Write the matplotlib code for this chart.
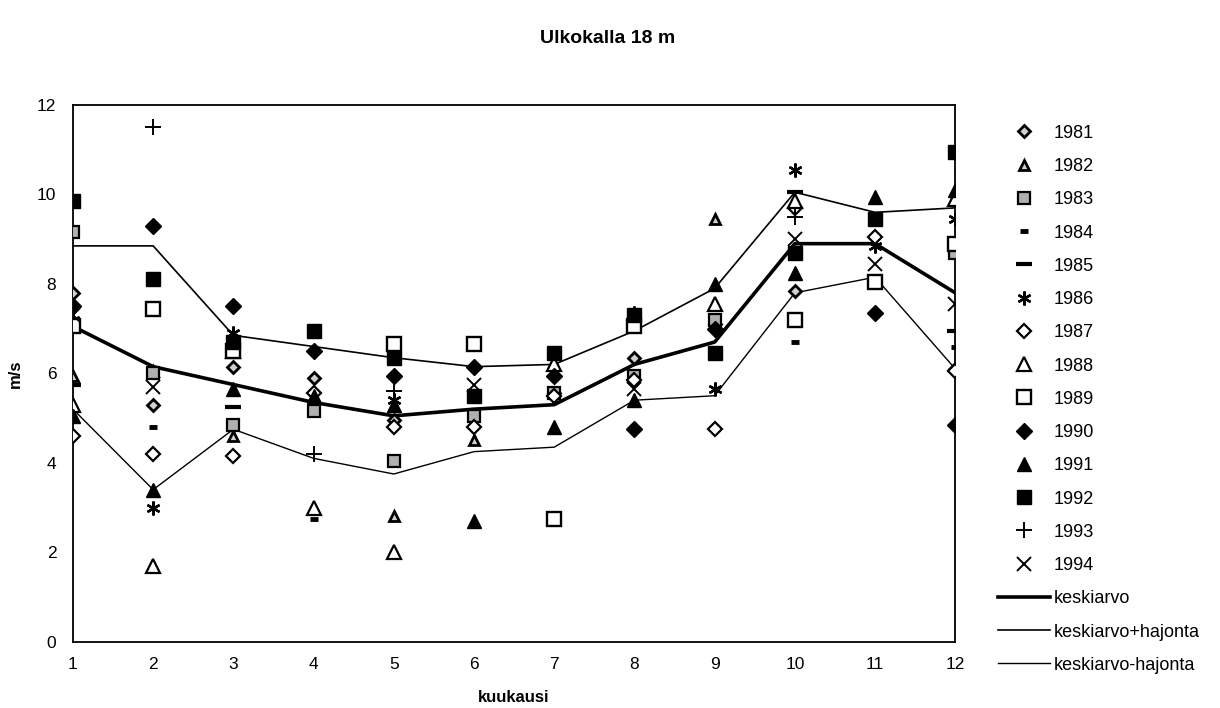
"""Ulkokalla 18 m: monthly mean wind speed per year, with mean and +/- std lines."""
import numpy as np
import matplotlib
matplotlib.use("Agg")
import matplotlib.pyplot as plt

plt.rcParams["font.family"] = ["Liberation Sans", "DejaVu Sans"]

nan = np.nan
months = np.arange(1, 13)

# monthly values (m/s) per year
y1981 = [7.8, 5.3, 6.15, 5.9, 4.95, nan, 5.55, 6.35, 7.1, 7.85, nan, 6.1]
y1982 = [5.95, 6.05, 4.6, nan, 2.8, 4.5, nan, nan, 9.45, nan, nan, nan]
y1983 = [9.15, 6.0, 4.85, 5.15, 4.05, 5.05, 5.55, 5.95, 7.2, nan, nan, 8.7]
y1984 = [nan, 4.8, nan, 2.75, nan, nan, nan, nan, nan, 6.7, nan, 6.6]
y1985 = [5.75, nan, 5.25, nan, nan, nan, nan, nan, nan, 10.05, nan, 6.95]
y1986 = [7.2, 3.0, 6.9, nan, 5.4, nan, nan, 7.35, 5.65, 10.55, 8.85, 9.45]
y1987 = [4.6, 4.2, 4.15, 5.55, 4.8, 4.8, 5.5, 5.85, 4.75, 9.7, 9.05, 6.05]
y1988 = [5.3, 1.7, 6.5, 3.0, 2.0, nan, 6.2, nan, 7.55, 9.85, nan, 9.9]
y1989 = [7.05, 7.45, 6.5, nan, 6.65, 6.65, 2.75, 7.05, nan, 7.2, 8.05, 8.9]
y1990 = [7.5, 9.3, 7.5, 6.5, 5.95, 6.15, 5.95, 4.75, 7.0, nan, 7.35, 4.85]
y1991 = [5.05, 3.4, 5.65, 5.5, 5.3, 2.7, 4.8, 5.4, 8.0, 8.25, 9.95, 10.1]
y1992 = [9.85, 8.1, 6.7, 6.95, 6.35, 5.5, 6.45, 7.3, 6.45, 8.7, 9.45, 10.95]
y1993 = [nan, 11.5, nan, 4.2, 5.6, nan, nan, nan, nan, 9.5, nan, nan]
y1994 = [7.3, 5.7, nan, nan, nan, 5.75, nan, 5.65, nan, 9.0, 8.45, 7.55]

keskiarvo = [7.05, 6.15, 5.75, 5.35, 5.05, 5.2, 5.3, 6.2, 6.7, 8.9, 8.9, 7.8]
ka_plus = [8.85, 8.85, 6.85, 6.6, 6.35, 6.15, 6.2, 6.95, 7.9, 10.05, 9.6, 9.7]
ka_minus = [5.2, 3.4, 4.75, 4.1, 3.75, 4.25, 4.35, 5.4, 5.5, 7.8, 8.15, 6.1]

years = ["1981", "1982", "1983", "1984", "1985", "1986", "1987",
         "1988", "1989", "1990", "1991", "1992", "1993", "1994"]
series = [y1981, y1982, y1983, y1984, y1985, y1986, y1987,
          y1988, y1989, y1990, y1991, y1992, y1993, y1994]

# marker style per year: marker, size, face colour, edge width
styles = [
    ("D", 6.5, "#d0d0d0", 2.0),
    ("^", 7.5, "#d0d0d0", 2.0),
    ("s", 8.5, "#b0b0b0", 1.6),
    ("_", 6.0, "black", 3.5),
    ("_", 11.0, "black", 3.0),
    ((6, 2, 0), 10.0, "black", 1.7),
    ("D", 7.5, "white", 1.6),
    ("^", 9.5, "white", 1.6),
    ("s", 9.5, "white", 1.7),
    ("D", 8.0, "black", 1.0),
    ("^", 9.5, "black", 1.0),
    ("s", 9.5, "black", 1.0),
    ("+", 11.0, "black", 1.4),
    ("x", 9.5, "black", 1.4),
]

fig = plt.figure(figsize=(12.2, 7.08), dpi=100)
ax = fig.add_axes([0.0598, 0.0936, 0.7232, 0.7581])

handles = []
for name, vals, (mk, ms, fc, mew) in zip(years, series, styles):
    h, = ax.plot(months, vals, linestyle="none", marker=mk, markersize=ms,
                 markerfacecolor=fc, markeredgecolor="black",
                 markeredgewidth=mew, color="black", label=name, zorder=3)
    handles.append(h)

h_mean, = ax.plot(months, keskiarvo, color="black", lw=2.6, label="keskiarvo", zorder=2)
h_plus, = ax.plot(months, ka_plus, color="black", lw=1.2, label="keskiarvo+hajonta", zorder=2)
h_minus, = ax.plot(months, ka_minus, color="black", lw=1.0, label="keskiarvo-hajonta", zorder=2)
handles += [h_mean, h_plus, h_minus]

ax.set_xlim(1, 12)
ax.set_ylim(0, 12)
ax.set_xticks(months)
ax.set_yticks(np.arange(0, 13, 2))
ax.tick_params(axis="both", length=0, labelsize=12.5)
ax.tick_params(axis="y", pad=12)
ax.tick_params(axis="x", pad=11)
for sp in ax.spines.values():
    sp.set_linewidth(1.3)
    sp.set_color("black")

ax.set_xlabel("kuukausi", fontsize=12, fontweight="bold", labelpad=13)
ax.set_ylabel("m/s", fontsize=12, fontweight="bold", labelpad=10)
fig.suptitle("Ulkokalla 18 m", fontsize=14, fontweight="bold", x=0.498, y=0.957)

fig.legend(handles=handles, loc="upper left", bbox_to_anchor=(0.812, 0.834),
           frameon=False, fontsize=13, handlelength=2.9, handletextpad=0.2,
           labelspacing=0.9, borderaxespad=0)

fig.savefig("out.png", dpi=100)
